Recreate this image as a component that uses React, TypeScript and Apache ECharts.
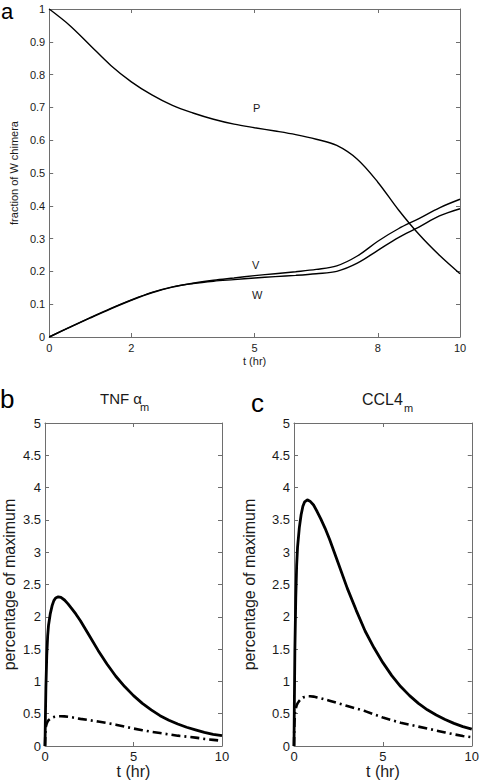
import React, { useEffect, useRef } from "react";
import * as echarts from "echarts";

// ---- Panel a data ----
const tTop = [0, 0.5, 1, 1.5, 2, 2.5, 3, 3.5, 4, 4.5, 5, 5.5, 6, 6.5, 7, 7.5, 8, 8.5, 9, 9.5, 10];
const pVals = [1, 0.95, 0.889, 0.828, 0.778, 0.738, 0.706, 0.683, 0.664, 0.649, 0.638, 0.628, 0.617, 0.603, 0.584, 0.542, 0.472, 0.388, 0.313, 0.249, 0.193];
const vVals = [0, 0.029, 0.058, 0.086, 0.112, 0.135, 0.152, 0.164, 0.173, 0.18, 0.187, 0.193, 0.199, 0.206, 0.217, 0.247, 0.292, 0.33, 0.361, 0.394, 0.42];
const wVals = [0, 0.03, 0.059, 0.087, 0.113, 0.136, 0.153, 0.163, 0.17, 0.175, 0.18, 0.184, 0.188, 0.193, 0.2, 0.225, 0.264, 0.303, 0.335, 0.369, 0.391];
const topXTicks = [0, 2, 5, 8, 10];

// ---- Panels b, c data ----
const tBot = [0, 0.02, 0.05, 0.1, 0.15, 0.2, 0.3, 0.4, 0.5, 0.6, 0.75, 0.9, 1.1, 1.3, 1.5, 1.75, 2, 2.5, 3, 3.5, 4, 4.5, 5, 5.5, 6, 6.5, 7, 7.5, 8, 8.5, 9, 9.5, 10];
const tnfSolid = [0, 0.4, 0.9, 1.4, 1.7, 1.87, 2.05, 2.17, 2.25, 2.29, 2.31, 2.3, 2.26, 2.2, 2.13, 2.04, 1.94, 1.71, 1.48, 1.27, 1.08, 0.92, 0.78, 0.66, 0.56, 0.47, 0.4, 0.34, 0.29, 0.25, 0.21, 0.18, 0.16];
const tnfDash = [0, 0.2, 0.3, 0.35, 0.38, 0.4, 0.42, 0.44, 0.45, 0.455, 0.46, 0.46, 0.458, 0.452, 0.445, 0.432, 0.42, 0.4, 0.378, 0.355, 0.33, 0.3, 0.27, 0.245, 0.22, 0.2, 0.18, 0.16, 0.145, 0.13, 0.11, 0.095, 0.08];
const cclSolid = [0, 0.65, 1.5, 2.3, 2.8, 3.08, 3.38, 3.58, 3.71, 3.78, 3.81, 3.79, 3.73, 3.63, 3.52, 3.37, 3.2, 2.82, 2.44, 2.1, 1.78, 1.52, 1.29, 1.09, 0.92, 0.78, 0.66, 0.56, 0.48, 0.41, 0.35, 0.3, 0.26];
const cclDash = [0, 0.33, 0.5, 0.58, 0.63, 0.66, 0.7, 0.73, 0.75, 0.76, 0.77, 0.77, 0.765, 0.752, 0.74, 0.72, 0.7, 0.66, 0.62, 0.58, 0.54, 0.49, 0.44, 0.4, 0.36, 0.33, 0.3, 0.27, 0.24, 0.21, 0.18, 0.155, 0.135];

const FONT = "Liberation Sans, Arial, sans-serif";
const BOX = "#6e6e6e";
const TXT = "#1a1a1a";

const pairs = (xs: number[], ys: number[]) => xs.map((x, i) => [x, ys[i]]);

function mirrorX(gridIndex: number, min: number, max: number, interval: number, custom?: number[]) {
  return {
    type: "value", gridIndex, position: "top", min, max, interval,
    axisLine: { show: true, onZero: false, lineStyle: { color: BOX, width: 1 } },
    axisTick: { show: true, inside: true, length: 4, lineStyle: { color: BOX }, ...(custom ? { customValues: custom } : {}) },
    axisLabel: { show: false }, splitLine: { show: false },
  };
}
function mirrorY(gridIndex: number, min: number, max: number, interval: number) {
  return {
    type: "value", gridIndex, position: "right", min, max, interval,
    axisLine: { show: true, onZero: false, lineStyle: { color: BOX, width: 1 } },
    axisTick: { show: true, inside: true, length: 4, lineStyle: { color: BOX } },
    axisLabel: { show: false }, splitLine: { show: false },
  };
}
function bottomX(gridIndex: number) {
  return {
    type: "value", gridIndex, min: 0, max: 10, interval: 5,
    name: "t (hr)", nameLocation: "middle", nameGap: 16,
    nameTextStyle: { color: TXT, fontSize: 16, fontFamily: FONT },
    axisLine: { show: true, onZero: false, lineStyle: { color: BOX } },
    axisTick: { show: true, inside: true, length: 4, lineStyle: { color: BOX } },
    axisLabel: { color: TXT, fontSize: 13, fontFamily: FONT, margin: 4 },
    splitLine: { show: false },
  };
}
function bottomY(gridIndex: number, nameGap: number) {
  return {
    type: "value", gridIndex, min: 0, max: 5, interval: 0.5,
    name: "percentage of maximum", nameLocation: "middle", nameGap,
    nameTextStyle: { color: TXT, fontSize: 16, fontFamily: FONT },
    axisLine: { show: true, onZero: false, lineStyle: { color: BOX } },
    axisTick: { show: true, inside: true, length: 4, lineStyle: { color: BOX } },
    axisLabel: { color: TXT, fontSize: 13, fontFamily: FONT, margin: 4 },
    splitLine: { show: false },
  };
}

export default function App() {
  const ref = useRef<HTMLDivElement>(null);
  useEffect(() => {
    const chart = echarts.init(ref.current!, null, { renderer: "svg" });
    const smallLabel = { color: TXT, fontSize: 11, fontFamily: FONT };
    const solidBottom = { color: "#000", width: 2.8 };
    const dashBottom = { color: "#000", width: 2.6, type: [9, 4, 2, 4] as any, cap: "butt" };
    const topLine = { color: "#000", width: 1.4 };

    const option: any = {
      animation: false,
      backgroundColor: "#fff",
      grid: [
        { left: 44, top: 9, width: 416, height: 328 },
        { left: 42, top: 423, width: 180, height: 323 },
        { left: 294, top: 423, width: 179, height: 323 },
      ],
      xAxis: [
        {
          type: "value", gridIndex: 0, min: 0, max: 10, interval: 1,
          name: "t (hr)", nameLocation: "middle", nameGap: 18,
          nameTextStyle: { color: TXT, fontSize: 11, fontFamily: FONT },
          axisLine: { show: true, onZero: false, lineStyle: { color: BOX } },
          axisTick: { show: true, inside: true, length: 4, lineStyle: { color: BOX }, customValues: topXTicks },
          axisLabel: { ...smallLabel, margin: 5, customValues: topXTicks },
          splitLine: { show: false },
        },
        mirrorX(0, 0, 10, 1, topXTicks),
        bottomX(1),
        mirrorX(1, 0, 10, 5),
        bottomX(2),
        mirrorX(2, 0, 10, 5),
      ],
      yAxis: [
        {
          type: "value", gridIndex: 0, min: 0, max: 1, interval: 0.1,
          name: "fraction of W chimera", nameLocation: "middle", nameGap: 30,
          nameTextStyle: { color: TXT, fontSize: 11, fontFamily: FONT },
          axisLine: { show: true, onZero: false, lineStyle: { color: BOX } },
          axisTick: { show: true, inside: true, length: 4, lineStyle: { color: BOX } },
          axisLabel: { ...smallLabel, margin: 4 },
          splitLine: { show: false },
        },
        mirrorY(0, 0, 1, 0.1),
        bottomY(1, 28),
        mirrorY(1, 0, 5, 0.5),
        bottomY(2, 37),
        mirrorY(2, 0, 5, 0.5),
      ],
      series: [
        { name: "P", type: "line", xAxisIndex: 0, yAxisIndex: 0, data: pairs(tTop, pVals), showSymbol: false, smooth: 0.35, lineStyle: topLine },
        { name: "V", type: "line", xAxisIndex: 0, yAxisIndex: 0, data: pairs(tTop, vVals), showSymbol: false, smooth: 0.35, lineStyle: topLine },
        { name: "W", type: "line", xAxisIndex: 0, yAxisIndex: 0, data: pairs(tTop, wVals), showSymbol: false, smooth: 0.35, lineStyle: topLine },
        { name: "TNF solid", type: "line", xAxisIndex: 2, yAxisIndex: 2, data: pairs(tBot, tnfSolid), showSymbol: false, smooth: false, lineStyle: solidBottom },
        { name: "TNF dash", type: "line", xAxisIndex: 2, yAxisIndex: 2, data: pairs(tBot, tnfDash), showSymbol: false, smooth: false, lineStyle: dashBottom },
        { name: "CCL4 solid", type: "line", xAxisIndex: 4, yAxisIndex: 4, data: pairs(tBot, cclSolid), showSymbol: false, smooth: false, lineStyle: solidBottom },
        { name: "CCL4 dash", type: "line", xAxisIndex: 4, yAxisIndex: 4, data: pairs(tBot, cclDash), showSymbol: false, smooth: false, lineStyle: dashBottom },
      ],
      graphic: [
        { type: "text", left: 1, top: 0, style: { text: "a", fontSize: 22, fontFamily: FONT, fill: "#000" } },
        { type: "text", left: 0, top: 386, style: { text: "b", fontSize: 26, fontFamily: FONT, fill: "#000" } },
        { type: "text", left: 251, top: 390, style: { text: "c", fontSize: 26, fontFamily: FONT, fill: "#000" } },
        { type: "text", x: 253, y: 108, style: { text: "P", fontSize: 11, fontFamily: FONT, fill: TXT, align: "left", verticalAlign: "middle" } },
        { type: "text", x: 252, y: 265, style: { text: "V", fontSize: 11, fontFamily: FONT, fill: TXT, align: "left", verticalAlign: "middle" } },
        { type: "text", x: 252, y: 295, style: { text: "W", fontSize: 11, fontFamily: FONT, fill: TXT, align: "left", verticalAlign: "middle" } },
        { type: "text", x: 100, y: 398, style: { text: "TNF α", fontSize: 15, fontFamily: FONT, fill: TXT, align: "left", verticalAlign: "middle" } },
        { type: "text", x: 140, y: 407, style: { text: "m", fontSize: 11, fontFamily: FONT, fill: TXT, align: "left", verticalAlign: "middle" } },
        { type: "text", x: 362, y: 399, style: { text: "CCL4", fontSize: 16, fontFamily: FONT, fill: TXT, align: "left", verticalAlign: "middle" } },
        { type: "text", x: 404, y: 408, style: { text: "m", fontSize: 11, fontFamily: FONT, fill: TXT, align: "left", verticalAlign: "middle" } },
      ],
    };
    chart.setOption(option);
    return () => chart.dispose();
  }, []);
  return (
    <div
      ref={ref}
      style={{ position: "fixed", left: 0, top: 0, width: 482, height: 782, background: "#fff" }}
    />
  );
}
